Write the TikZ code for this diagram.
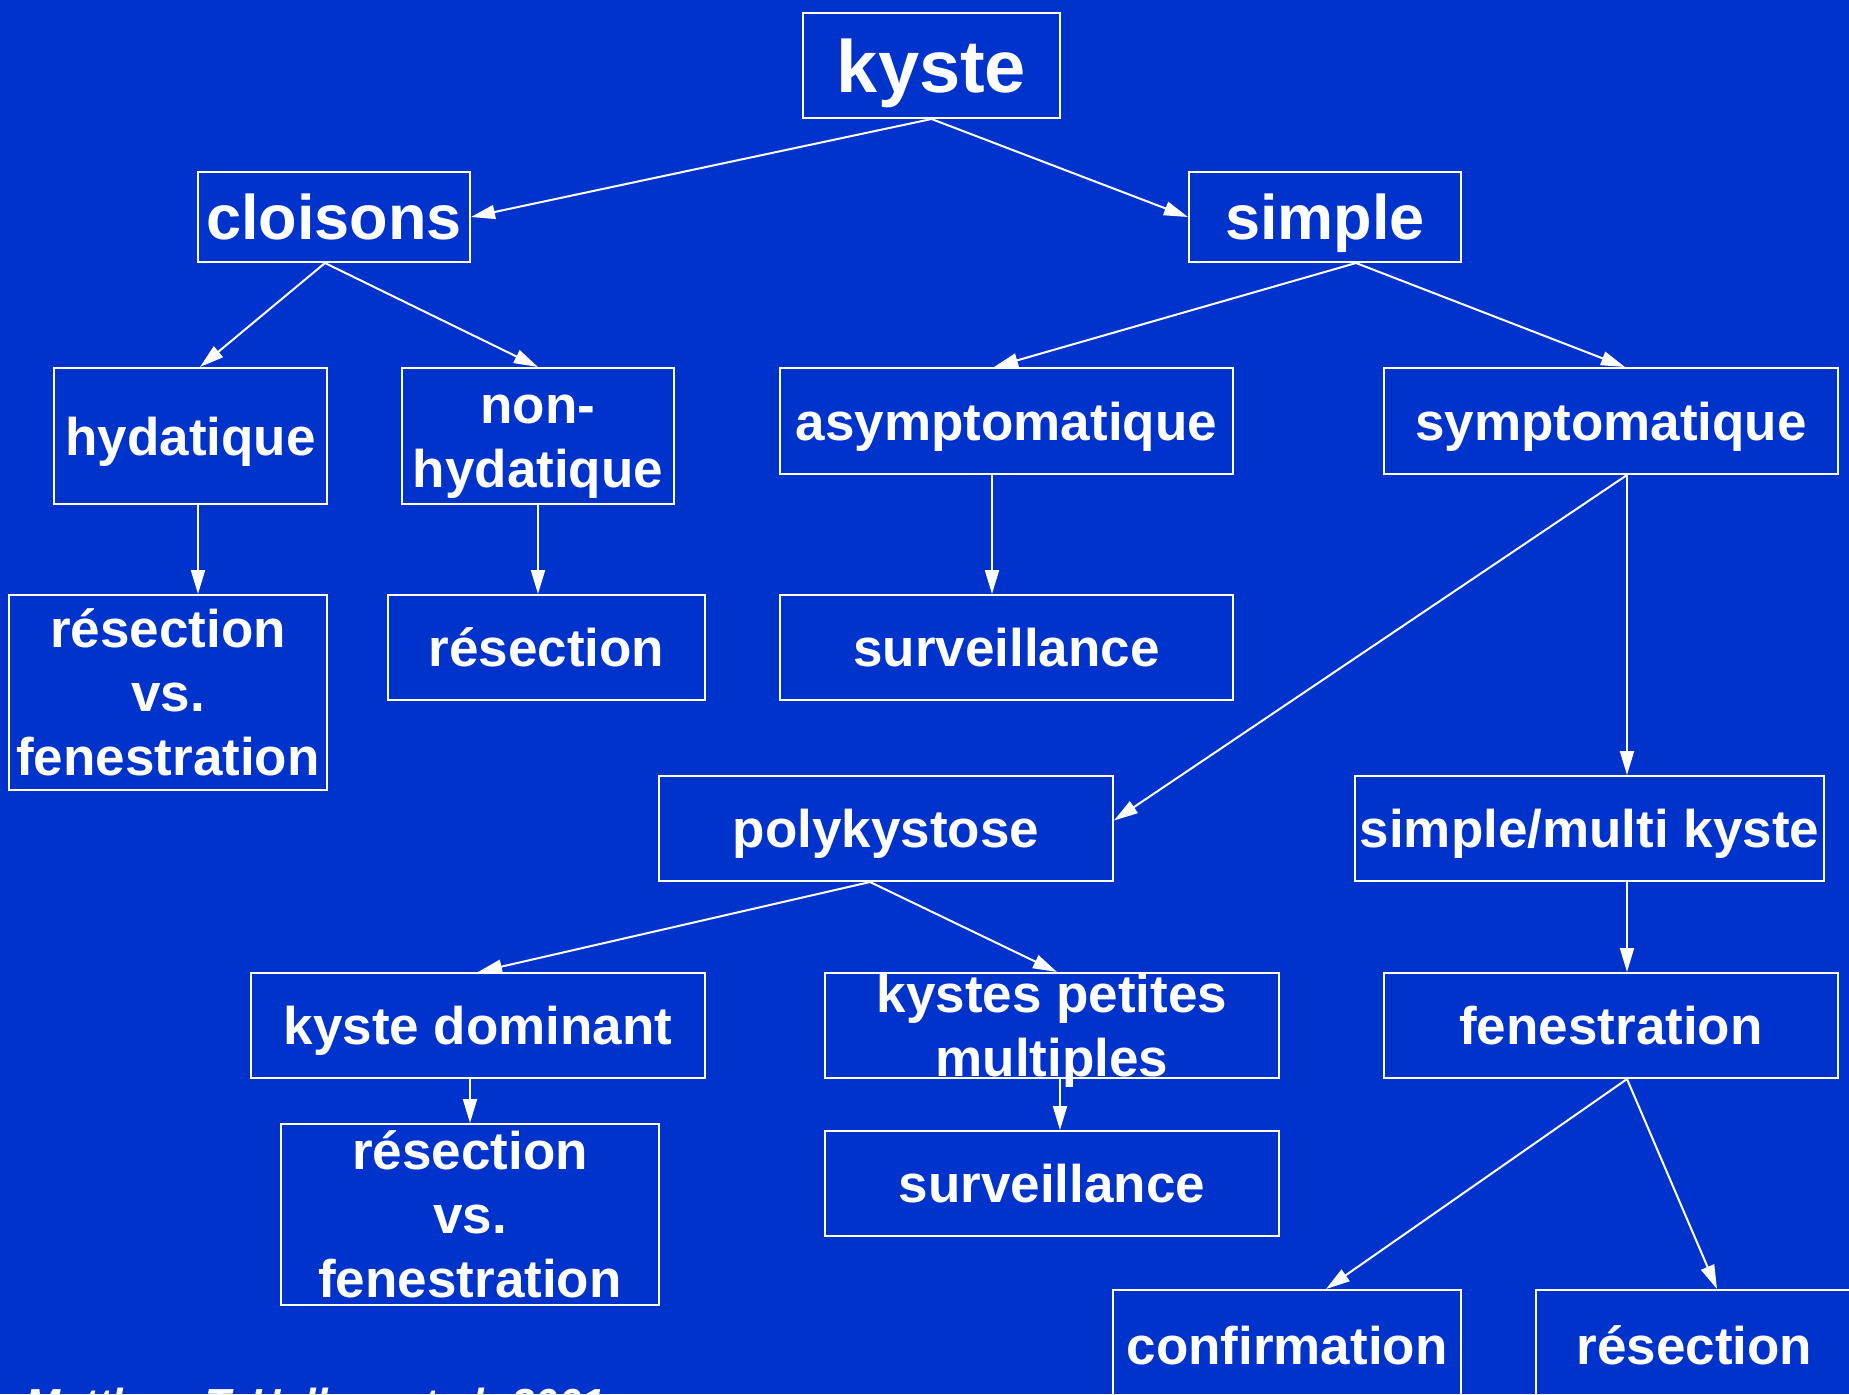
\documentclass[tikz,border=0pt]{standalone}
\usepackage{fontspec}
\setmainfont{Liberation Sans}
\usepackage{xcolor}
\usetikzlibrary{arrows.meta}
\definecolor{slideblue}{HTML}{0033CC}

\begin{document}
\begin{tikzpicture}[x=0.5pt, y=-0.5pt,
    box/.style={draw=white, line width=1pt, text=white, align=center, inner sep=0pt,
        text depth=0pt, font=\bfseries\fontsize{26.5}{32}\selectfont},
    arr/.style={draw=white, line width=1pt, -{Triangle[length=12pt,width=7pt]}}]
    % Background
    \fill[slideblue] (0,0) rectangle (1849,1394);
    \useasboundingbox (0,0) rectangle (1849,1394);

    % Top
    \node[box, minimum width=128.5pt, minimum height=52.5pt, font=\bfseries\fontsize{37}{44}\selectfont] (kyste) at (931.5,65.5) {kyste};
    \node[box, minimum width=136pt, minimum height=45pt, font=\bfseries\fontsize{31.5}{38}\selectfont] (cloisons) at (334,217) {cloisons};
    \node[box, minimum width=136pt, minimum height=45pt, font=\bfseries\fontsize{31.5}{38}\selectfont] (simple) at (1325,217) {simple};

    % Cloisons branch
    \node[box, minimum width=136.5pt, minimum height=68pt] (hyd) at (190.5,436) {hydatique};
    \node[box, minimum width=136pt, minimum height=68pt] (nonhyd) at (538,436) {\vphantom{h}non-\\hydatique};
    \node[box, minimum width=159pt, minimum height=97.5pt] (resfen1) at (168,692.5) {résection\\vs.\\fenestration};
    \node[box, minimum width=158.5pt, minimum height=52.5pt] (res1) at (546.5,647.5) {résection};

    % Simple branch
    \node[box, minimum width=226.5pt, minimum height=53pt] (asympt) at (1006.5,421) {asymptomatique};
    \node[box, minimum width=227pt, minimum height=53pt] (sympt) at (1611,421) {symptomatique};
    \node[box, minimum width=226.5pt, minimum height=52.5pt] (surv1) at (1006.5,647.5) {surveillance};
    \node[box, minimum width=227pt, minimum height=52.5pt] (poly) at (886,828.5) {polykystose};
    \node[box, minimum width=234.5pt, minimum height=52.5pt] (smk) at (1589.5,828.5) {simple/multi kyste};

    % Polykystose
    \node[box, minimum width=227pt, minimum height=52.5pt] (dom) at (478,1025.5) {kyste dominant};
    \node[box, minimum width=227pt, minimum height=52.5pt] (kpm) at (1052,1025.5) {kystes petites\\multiples};
    \node[box, minimum width=189pt, minimum height=90.5pt] (resfen2) at (470,1214.5) {résection\\vs.\\fenestration};
    \node[box, minimum width=227pt, minimum height=52.5pt] (surv2) at (1052,1183.5) {surveillance};

    % Fenestration
    \node[box, minimum width=227pt, minimum height=52.5pt] (fen) at (1611,1025.5) {fenestration};
    \node[box, minimum width=174pt, minimum height=55pt] (confirm) at (1287,1345) {confirmation};
    \node[box, minimum width=158.5pt, minimum height=55pt] (res3) at (1694.5,1345) {résection};

    % Source
    \node[anchor=base west, inner sep=0pt, text=white, font=\bfseries\itshape\fontsize{21}{24}\selectfont] (cite) at (25,1418) {Matthew T. Hallam et al. 2001};

    % Arrows
    \draw[arr] (kyste.south) -- (cloisons.east);
    \draw[arr] (kyste.south) -- (simple.west);
    \draw[arr] ([xshift=-4.5pt]cloisons.south) -- ([xshift=4.75pt]hyd.north);
    \draw[arr] ([xshift=-4.5pt]cloisons.south) -- (nonhyd.north);
    \draw[arr] ([xshift=3.75pt]hyd.south) -- ([xshift=15pt]resfen1.north);
    \draw[arr] (nonhyd.south) -- ([xshift=-4.25pt]res1.north);
    \draw[arr] ([xshift=15.5pt]simple.south) -- ([xshift=-6.25pt]asympt.north);
    \draw[arr] ([xshift=15.5pt]simple.south) -- ([xshift=7pt]sympt.north);
    \draw[arr] ([xshift=-7.25pt]asympt.south) -- ([xshift=-7.25pt]surv1.north);
    \draw[arr] ([xshift=8pt]sympt.south) -- ([yshift=4pt]poly.east);
    \draw[arr] ([xshift=8pt]sympt.south) -- ([xshift=18.75pt]smk.north);
    \draw[arr] ([xshift=-8pt]poly.south) -- (dom.north);
    \draw[arr] ([xshift=-8pt]poly.south) -- ([xshift=2.5pt]kpm.north);
    \draw[arr] ([xshift=-4pt]dom.south) -- (resfen2.north);
    \draw[arr] ([xshift=4pt]kpm.south) -- ([xshift=4pt]surv2.north);
    \draw[arr] ([xshift=18.75pt]smk.south) -- ([xshift=8pt]fen.north);
    \draw[arr] ([xshift=8pt]fen.south) -- ([xshift=19.5pt]confirm.north);
    \draw[arr] ([xshift=8pt]fen.south) -- ([xshift=11.25pt]res3.north);
\end{tikzpicture}
\end{document}
